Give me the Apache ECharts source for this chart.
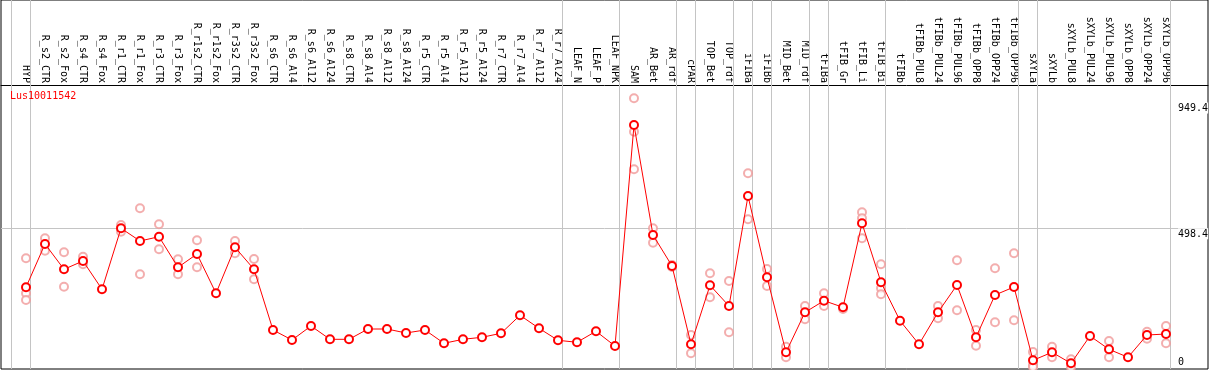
<!DOCTYPE html>
<html>
<head>
<meta charset="utf-8">
<script src="https://cdn.jsdelivr.net/npm/echarts@6/dist/echarts.min.js"></script>
<style>
html,body{margin:0;padding:0;background:#fff;}
#chart{width:1209px;height:370px;}
</style>
</head>
<body>
<div id="chart"></div>
<script>
const categories = ['HYP','R_s2_CTR','R_s2_Fox','R_s4_CTR','R_s4_Fox','R_r1_CTR','R_r1_Fox','R_r3_CTR','R_r3_Fox','R_r1s2_CTR','R_r1s2_Fox','R_r3s2_CTR','R_r3s2_Fox','R_s6_CTR','R_s6_Al4','R_s6_Al12','R_s6_Al24','R_s8_CTR','R_s8_Al4','R_s8_Al12','R_s8_Al24','R_r5_CTR','R_r5_Al4','R_r5_Al12','R_r5_Al24','R_r7_CTR','R_r7_Al4','R_r7_Al12','R_r7_Al24','LEAF_N','LEAF_P','LEAF_NPK','SAM','AR_Bet','AR_rdf','cPAR','TOP_Bet','TOP_rdf','iFIBa','iFIBb','MID_Bet','MID_rdf','tFIBa','tFIB_Gr','tFIB_Li','tFIB_Bi','tFIBb','tFIBb_PUL8','tFIBb_PUL24','tFIBb_PUL96','tFIBb_OPP8','tFIBb_OPP24','tFIBb_OPP96','sXYLa','sXYLb','sXYLb_PUL8','sXYLb_PUL24','sXYLb_PUL96','sXYLb_OPP8','sXYLb_OPP24','sXYLb_OPP96'];

const meanValues = [286.9,442.2,351.4,381.2,279.7,498.5,452.9,468.3,358.6,406.3,265.4,430.3,351.4,133.8,97.9,148.1,100.4,100.4,137.3,137.3,123,133.8,86.1,100.4,107.6,121.9,186.5,139.9,96.8,89.7,129.1,76.4,868.9,474.4,363.3,82.5,294.1,219.8,614.3,322.7,53.8,197.2,238.8,215.2,516.4,304.8,167.1,82.5,197.2,295.1,107.6,259.3,288,25.1,53.8,14.3,112.2,64.5,35.9,115.8,119.4];

const rep1 = [390.9,462.6,412.4,396.6,null,510.3,570.2,512.8,387.3,455.4,null,452.9,388.4,null,null,null,null,null,null,null,null,null,null,null,null,null,null,null,null,null,null,null,964.6,498.5,366.8,115.8,337.1,309.5,695.7,352.5,73.9,219.8,265.4,209.1,555.8,369.4,null,null,219.8,383.7,133.8,355,408.8,54.9,73.9,28.7,null,94.3,null,127.7,148.1];
const rep2 = [265.4,418.1,289,369.4,null,486.3,333.5,423.1,333.5,358.6,null,408.8,315.6,null,null,null,null,null,null,null,null,null,null,null,null,null,null,null,null,null,null,null,844.9,446.8,359.7,50.2,251,125.5,530.7,291.5,35.9,172.1,219.8,null,534.3,283.3,null,null,175.7,204.4,77.5,161.4,168.5,8.2,35.9,0,null,35.9,null,102.6,86.1];
const rep3 = [241.3,null,null,null,null,null,null,null,null,null,null,null,null,null,null,null,null,null,null,null,null,null,null,null,null,null,null,null,null,null,null,null,710,null,null,null,null,null,null,null,null,null,null,null,462.6,261.8,null,null,null,null,null,null,null,1,null,null,null,null,null,null,null];

const yTickValues = [498.4, 949.4];
const yZeroTick = [0];
const groupEnds = [-1,0,28,31,34,35,37,38,39,41,42,45,52,53,60];
const guideValues = [498.4];
const trackName = 'Lus10011542';

const FONT = 'DejaVu Sans Mono';
const RED = '#ff0000';
const PINK = '#f09a9a';
const GRIDC = '#c4c4c4';

const xMin = -25/19;
const xMax = xMin + 1207/19;
const yMin = -6.1, yMax = 1317.1;

const mainData = meanValues.map((v, i) => [i, v]);
const repData = [];
[rep1, rep2, rep3].forEach(arr => arr.forEach((v, i) => { if (v !== null) repData.push([i, v]); }));

const chart = echarts.init(document.getElementById('chart'), null, {renderer: 'canvas'});
chart.setOption({
  animation: false,
  backgroundColor: '#fff',
  title: {
    text: trackName, left: 10, top: 91, padding: 0,
    textStyle: {color: RED, fontSize: 10, fontFamily: FONT, fontWeight: 'normal'}
  },
  grid: {left: 1, right: 1, top: 0, bottom: 1, show: true, borderColor: '#000', borderWidth: 1, backgroundColor: 'transparent', outerBoundsMode: 'none'},
  xAxis: [{
    type: 'value', min: xMin, max: xMax, position: 'top', offset: -85,
    axisLine: {show: true, onZero: false, lineStyle: {color: '#000', width: 1}},
    axisTick: {show: false}, splitLine: {show: false},
    axisLabel: {
      show: true, customValues: categories.map((c, i) => i),
      formatter: v => categories[Math.round(v)] || '',
      rotate: 90, margin: 2, color: '#000', fontSize: 10, fontFamily: FONT
    }
  }],
  yAxis: [{
    type: 'value', min: yMin, max: yMax, position: 'right', z: 20,
    axisLine: {show: false}, axisTick: {show: false}, splitLine: {show: false},
    axisLabel: {
      show: true, inside: true, customValues: yTickValues, align: 'left', verticalAlign: 'top', margin: 30,
      formatter: v => String(v), color: '#000', fontSize: 10, fontFamily: FONT,
      backgroundColor: '#fff', padding: [1, 0, 0, 0]
    }
  }, {
    type: 'value', min: yMin, max: yMax, position: 'right', z: 20,
    axisLine: {show: false}, axisTick: {show: false}, splitLine: {show: false},
    axisLabel: {
      show: true, inside: true, customValues: yZeroTick, align: 'left', verticalAlign: 'bottom', margin: 30,
      formatter: v => String(v), color: '#000', fontSize: 10, fontFamily: FONT
    }
  }],
  series: [{
    type: 'scatter', name: 'guides', data: [], z: 1, silent: true,
    markLine: {
      silent: true, symbol: 'none', animation: false, z: 1,
      label: {show: false},
      lineStyle: {color: GRIDC, width: 1, type: 'solid'},
      data: groupEnds.map(g => ({xAxis: g + 4/19})).concat(guideValues.map(v => ({yAxis: v})))
    }
  }, {
    type: 'scatter', name: 'replicates', data: repData, z: 10,
    symbol: 'emptyCircle', symbolSize: 8,
    itemStyle: {color: PINK, borderColor: PINK, borderWidth: 1.5}
  }, {
    type: 'line', name: 'mean', data: mainData, z: 12,
    symbol: 'emptyCircle', symbolSize: 8, showAllSymbol: true,
    lineStyle: {color: RED, width: 1},
    itemStyle: {color: RED, borderColor: RED, borderWidth: 1.5}
  }]
});
</script>
</body>
</html>
